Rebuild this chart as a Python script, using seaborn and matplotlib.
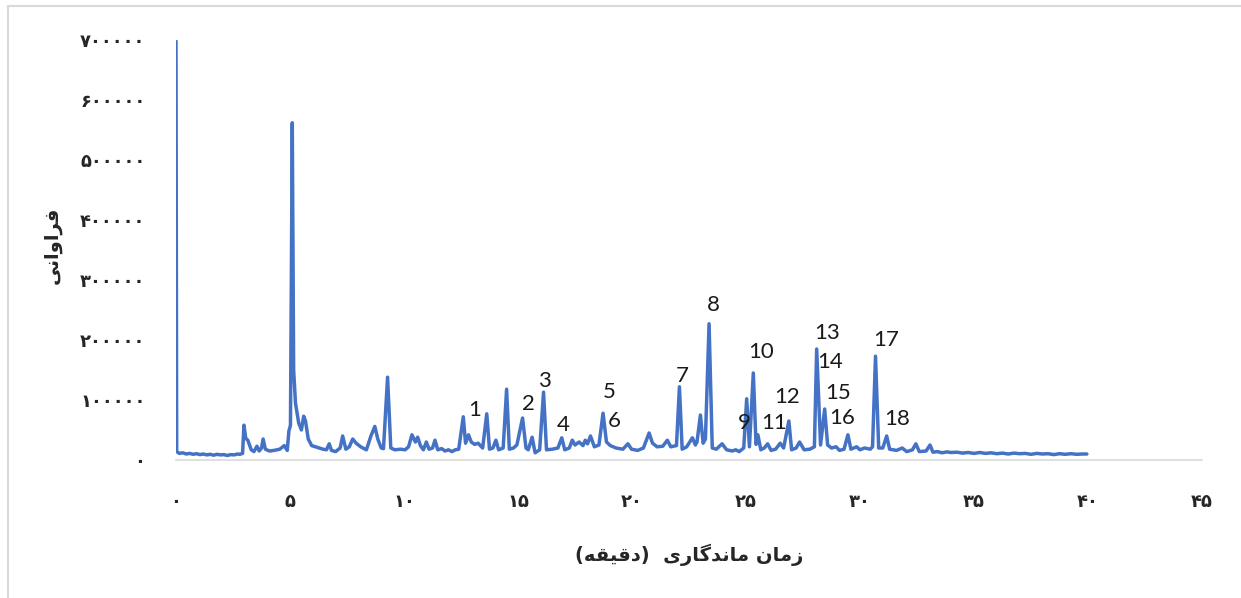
import matplotlib
matplotlib.use("Agg")
import matplotlib.pyplot as plt
from matplotlib.lines import Line2D
import seaborn as sns
import pandas as pd

# Retention time (min) and abundance of the chromatogram trace
retention_time = [
    0.00, 0.03, 0.15, 0.30, 0.45, 0.60, 0.75, 0.90, 1.05, 1.20, 1.35, 1.50, 1.65,
    1.80, 1.95, 2.10, 2.25, 2.40, 2.55, 2.70, 2.80, 2.92,
    2.98, 3.06, 3.15, 3.30, 3.42, 3.55, 3.65, 3.75, 3.82, 3.92, 4.10, 4.30, 4.55,
    4.75, 4.88, 4.95, 5.02, 5.10, 5.16, 5.24, 5.38, 5.50, 5.60, 5.68, 5.80, 5.95,
    6.20, 6.45, 6.60, 6.72, 6.82, 7.00, 7.20, 7.31, 7.45, 7.60, 7.75, 7.90, 8.10,
    8.35, 8.55, 8.72, 8.85, 9.00, 9.10, 9.28, 9.42, 9.60, 9.85, 10.05, 10.20,
    10.35, 10.50, 10.60, 10.72, 10.85, 10.98, 11.10, 11.25, 11.36, 11.48, 11.65,
    11.80, 11.95, 12.10, 12.25, 12.40, 12.60, 12.70, 12.83, 12.95, 13.10, 13.25,
    13.45, 13.63, 13.75, 13.90, 14.03, 14.15, 14.35, 14.50, 14.62, 14.80, 14.95,
    15.20, 15.35, 15.45, 15.62, 15.75, 15.95, 16.12, 16.25, 16.50, 16.75, 16.92,
    17.05, 17.25, 17.38, 17.50, 17.68, 17.85, 17.95, 18.05, 18.18, 18.35, 18.55,
    18.73, 18.88, 19.05, 19.30, 19.60, 19.82, 19.98, 20.25, 20.50, 20.75, 20.90,
    21.10, 21.35, 21.55, 21.70, 21.95, 22.08, 22.20, 22.40, 22.65, 22.78, 22.85,
    23.00, 23.12, 23.22, 23.38, 23.52, 23.70, 23.95, 24.15, 24.40, 24.55, 24.70,
    24.90, 25.03, 25.15, 25.32, 25.44, 25.52, 25.65, 25.80, 25.95, 26.10, 26.30,
    26.50, 26.65, 26.88, 27.00, 27.20, 27.35, 27.55, 27.80, 28.00, 28.10, 28.27,
    28.45, 28.58, 28.75, 28.95, 29.10, 29.30, 29.47, 29.60, 29.85, 30.00, 30.20,
    30.45, 30.55, 30.68, 30.82, 31.00, 31.17, 31.30, 31.60, 31.85, 32.05, 32.30,
    32.45, 32.60, 32.90, 33.07, 33.20, 33.40, 33.60, 33.80, 34.00, 34.25, 34.50,
    34.75, 35.00, 35.25, 35.50, 35.75, 36.00, 36.25, 36.50, 36.75, 37.00, 37.25,
    37.50, 37.75, 38.00, 38.25, 38.50, 38.75, 39.00, 39.25, 39.50, 39.75, 39.95,
]
abundance = [
    698000, 14000, 11000, 12000, 10000, 11000, 9500, 10500, 9000, 10000, 8500, 9500, 8000,
    9500, 8500, 9000, 7500, 9000, 8500, 10000, 9500, 11000,
    58000, 36000, 33000, 17000, 14000, 23000, 15000, 20000, 35000, 18000, 15000, 16000, 18000,
    24000, 16000, 48000, 58000, 562000, 150000, 95000, 62000, 50000, 73000, 65000, 35000, 24000,
    21000, 18000, 17000, 27000, 16000, 14000, 20000, 40000, 18000, 22000, 35000, 28000, 22000,
    17000, 40000, 56000, 35000, 20000, 19000, 138000, 20000, 17000, 18000, 17000, 22000,
    42000, 30000, 38000, 24000, 17000, 30000, 18000, 20000, 33000, 17000, 19000,
    15000, 17000, 14000, 17000, 18000, 72000, 28000, 42000, 30000, 26000, 28000,
    20000, 77000, 18000, 20000, 33000, 17000, 20000, 118000, 18000, 20000, 25000,
    70000, 20000, 17000, 38000, 12000, 17000, 113000, 17000, 18000, 20000, 37000,
    17000, 20000, 33000, 25000, 30000, 24000, 33000, 27000, 40000, 22000, 25000,
    78000, 30000, 24000, 20000, 18000, 27000, 18000, 16000, 20000, 45000, 28000,
    22000, 23000, 33000, 22000, 24000, 122000, 18000, 22000, 37000, 25000, 30000,
    75000, 28000, 35000, 227000, 20000, 18000, 27000, 17000, 15000, 17000, 14000,
    20000, 102000, 22000, 145000, 26000, 42000, 17000, 20000, 27000, 16000, 18000,
    28000, 20000, 65000, 17000, 20000, 30000, 17000, 18000, 22000, 185000, 25000,
    85000, 25000, 20000, 22000, 16000, 18000, 42000, 18000, 22000, 17000, 20000,
    18000, 22000, 173000, 20000, 20000, 40000, 18000, 16000, 20000, 14000, 17000,
    27000, 14000, 15000, 25000, 13000, 14000, 12000, 13500, 12500, 13000, 11500,
    12500, 11000, 12500, 11000, 12000, 10500, 11500, 10000, 11500, 10500, 11000,
    9500, 11000, 10000, 10500, 9000, 10500, 9500, 10500, 9500, 10000, 10000,
]

# Numbered compound labels and where they sit
peak_numbers = [str(i) for i in range(1, 19)]
label_time = [13.11, 15.44, 16.18, 16.97, 18.99, 19.21, 22.19, 23.55, 24.91,
              25.66, 26.23, 26.80, 28.55, 28.68, 29.04, 29.21, 31.14, 31.62]
label_abundance = [83000, 93000, 132000, 58000, 113000, 65000, 140000, 258000, 62000,
                   180000, 62000, 105000, 212000, 163000, 112000, 70000, 200000, 68000]

x_ticks = [0, 5, 10, 15, 20, 25, 30, 35, 40, 45]
y_ticks = [0, 100000, 200000, 300000, 400000, 500000, 600000, 700000]

PERSIAN_DIGITS = str.maketrans("0123456789", "\u06f0\u06f1\u06f2\u06f3\u06f4\u06f5\u06f6\u06f7\u06f8\u06f9")


def fa_num(v):
    return str(int(v)).translate(PERSIAN_DIGITS)


# Axis titles written in shaped (presentation-form) Persian, visual order
y_title = "\uFBFD\uFEE7\uFE8D\uFEED\uFE8D\uFEAE\uFED3"  # فراوانی
x_title = ("(" + "\uFEEA\uFED8\uFBFF\uFED7\uFEA9" + ")" + "  "
           + "\uFBFC\uFEAD\uFE8E\uFB94\uFEAA\uFEE7\uFE8E\uFEE3" + " "
           + "\uFEE5\uFE8E\uFEE3\uFEAF")  # زمان ماندگاری (دقیقه)

sns.set_theme(style="white")
plt.rcParams["font.family"] = ["DejaVu Sans"]

LINE_BLUE = "#4472C4"
GRID_GRAY = "#D9D9D9"

fig = plt.figure(figsize=(12.41, 5.98), dpi=100)
ax = fig.add_axes([176 / 1241, 138 / 598, 1026 / 1241, 420 / 598])

df = pd.DataFrame({"time": retention_time, "abundance": abundance})
sns.lineplot(data=df, x="time", y="abundance", ax=ax, color=LINE_BLUE,
             linewidth=2.5, estimator=None, sort=True)

for lbl, t, a in zip(peak_numbers, label_time, label_abundance):
    ax.text(t, a, lbl, ha="center", va="center", fontsize=16,
            family=["Lato", "DejaVu Sans"], color="#1a1a1a")

ax.set_xlim(0, 45)
ax.set_ylim(0, 700000)
ax.set_xticks(x_ticks)
ax.set_xticklabels([fa_num(v) for v in x_ticks], fontsize=13, fontweight="bold")
ax.set_yticks(y_ticks)
ax.set_yticklabels([fa_num(v) for v in y_ticks], fontsize=13, fontweight="bold")
ax.tick_params(axis="x", length=0, pad=24)
ax.tick_params(axis="y", length=0, pad=22)

for side in ("left", "right", "top"):
    ax.spines[side].set_visible(False)
ax.spines["bottom"].set_color(GRID_GRAY)
ax.spines["bottom"].set_linewidth(1.2)
ax.grid(False)

ax.set_xlabel("")
ax.set_ylabel("")
fig.text(689 / 1241, 1 - 555 / 598, x_title, ha="center", va="center",
         fontsize=14, fontweight="bold")
fig.text(52 / 1241, 1 - 245 / 598, y_title, ha="center", va="center",
         fontsize=14, fontweight="bold", rotation=90)

# Light frame around the chart area
fig.add_artist(Line2D([7.5 / 1241, 7.5 / 1241], [0, 1 - 5.5 / 598],
                      transform=fig.transFigure, color=GRID_GRAY, linewidth=1.5))
fig.add_artist(Line2D([7.5 / 1241, 1], [1 - 5.5 / 598, 1 - 5.5 / 598],
                      transform=fig.transFigure, color=GRID_GRAY, linewidth=1.5))

fig.savefig("out.png", dpi=100, facecolor="white")
